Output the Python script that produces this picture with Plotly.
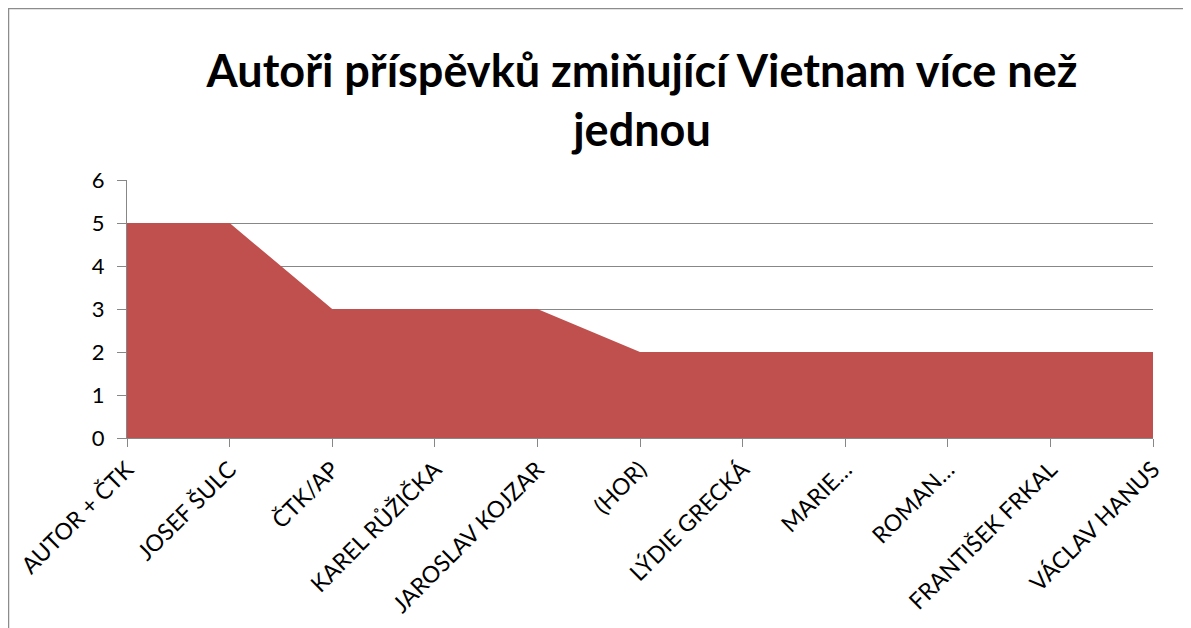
import plotly.graph_objects as go

categories = ["AUTOR + ČTK", "JOSEF ŠULC", "ČTK/AP", "KAREL RŮŽIČKA", "JAROSLAV KOJZAR",
              "(HOR)", "LÝDIE GRECKÁ", "MARIE…", "ROMAN…", "FRANTIŠEK FRKAL", "VÁCLAV HANUS"]
values = [5, 5, 3, 3, 3, 2, 2, 2, 2, 2, 2]
title_text = "Autoři příspěvků zmiňující Vietnam více než<br>jednou"

# page is offset by the 8px body margin
OFF = 8
L, R, T, B = 127 - OFF, 1153 - OFF, 180 - OFF, 438 - OFF
W, H = 1191, 628

fig = go.Figure()
fig.add_trace(go.Scatter(
    x=categories, y=values, mode="lines", fill="tozeroy",
    line=dict(width=0, color="#C0504D"), fillcolor="#C0504D",
    hoverinfo="x+y", showlegend=False,
))

grid = "#878787"
fig.update_layout(
    width=W, height=H,
    margin=dict(l=L, r=W - R, t=T, b=H - B, autoexpand=False),
    paper_bgcolor="white", plot_bgcolor="white",
    font=dict(family="Lato, Carlito, sans-serif", color="black", size=22),
    title=dict(text="<b>" + title_text + "</b>", x=(642 - OFF) / W, xanchor="center",
               y=1 - 79 / H, yanchor="middle",
               font=dict(size=45, family="Lato, sans-serif", color="black")),
    xaxis=dict(type="category", range=[0, len(categories) - 1],
               showgrid=False, showline=True, linecolor=grid, linewidth=1,
               ticks="outside", ticklen=8, tickcolor=grid, tickwidth=1,
               tickangle=-45, tickfont=dict(size=23), zeroline=False),
    yaxis=dict(range=[0, 6], dtick=1, showgrid=True, gridcolor=grid, gridwidth=1,
               showline=True, linecolor=grid, linewidth=1,
               ticks="outside", ticklen=9, tickcolor=grid, tickwidth=1,
               tickfont=dict(size=22), zeroline=False, ticklabelstandoff=8),
    shapes=[dict(type="rect", xref="paper", yref="paper",
                 x0=(0.5 - L) / (R - L), x1=(1182 - L) / (R - L),
                 y0=(B - 700) / (B - T), y1=(B - 0.5) / (B - T),
                 line=dict(color="#8c8c8c", width=1.5), layer="below")],
)

fig.write_html("out.html")
